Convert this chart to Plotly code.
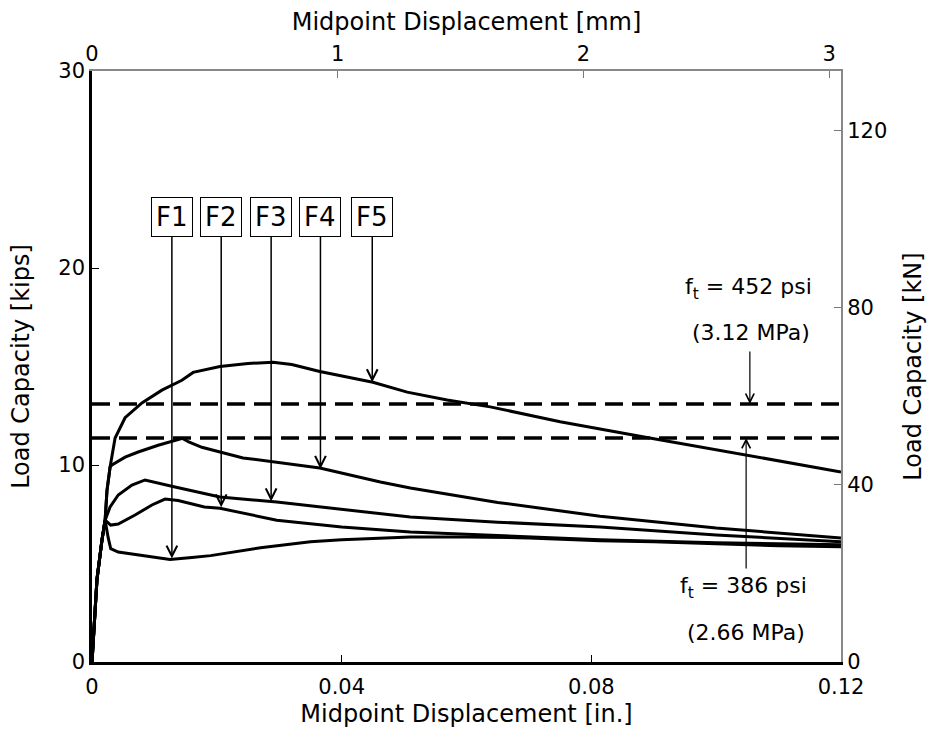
import plotly.graph_objects as go

KIPS_TO_KN = 4.44822
IN_TO_MM = 25.4

# ---- data (displacement in inches, load in kips) ----
f1_x = [0, 0.0008, 0.0016, 0.0021, 0.0026, 0.0030, 0.0042, 0.0080, 0.0125, 0.0160, 0.0190, 0.0270,
        0.0350, 0.0400, 0.0510, 0.0600, 0.0700, 0.0814, 0.0900, 0.1000, 0.1100, 0.1200]
f1_y = [0, 4.2, 6.2, 7.2, 6.3, 5.75, 5.58, 5.40, 5.20, 5.30, 5.40, 5.80,
        6.10, 6.20, 6.35, 6.35, 6.30, 6.15, 6.10, 6.00, 5.90, 5.85]

f2_x = [0, 0.0008, 0.0016, 0.0021, 0.0030, 0.0042, 0.0069, 0.0096, 0.0117, 0.0138, 0.0180, 0.0205,
        0.0296, 0.0400, 0.0510, 0.0650, 0.0814, 0.1000, 0.1200]
f2_y = [0, 4.2, 6.2, 7.2, 6.95, 7.00, 7.46, 7.97, 8.27, 8.20, 7.87, 7.80,
        7.20, 6.85, 6.60, 6.40, 6.20, 6.05, 5.95]

f3_x = [0, 0.0008, 0.0016, 0.0021, 0.0029, 0.0042, 0.0064, 0.0085, 0.0133, 0.0176, 0.0205,
        0.0296, 0.0400, 0.0510, 0.0650, 0.0814, 0.1000, 0.1200]
f3_y = [0, 4.2, 6.2, 7.2, 7.87, 8.48, 8.98, 9.24, 8.88, 8.58, 8.38,
        8.12, 7.75, 7.36, 7.10, 6.85, 6.45, 6.10]

f4_x = [0, 0.0008, 0.0016, 0.0021, 0.0024, 0.0029, 0.0032, 0.0053, 0.0074, 0.0106, 0.0145, 0.0155,
        0.0176, 0.0242, 0.0365, 0.0462, 0.0510, 0.0650, 0.0814, 0.1000, 0.1200]
f4_y = [0, 4.2, 6.2, 7.2, 8.7, 9.9, 10.0, 10.4, 10.66, 11.0, 11.35, 11.17,
        10.9, 10.36, 9.85, 9.14, 8.83, 8.10, 7.40, 6.80, 6.30]

f5_x = [0, 0.0008, 0.0016, 0.0021, 0.0024, 0.0029, 0.0037, 0.0053, 0.0080, 0.0112, 0.0144, 0.0162,
        0.0205, 0.0250, 0.0290, 0.0320, 0.0365, 0.0450, 0.0505, 0.0569, 0.0638, 0.0750, 0.0889,
        0.1050, 0.1200]
f5_y = [0, 4.2, 6.2, 7.2, 8.7, 9.9, 11.37, 12.4, 13.15, 13.8, 14.3, 14.7,
        15.0, 15.15, 15.22, 15.1, 14.75, 14.2, 13.7, 13.3, 12.95, 12.2, 11.4,
        10.5, 9.65]

series_x = [f1_x, f2_x, f3_x, f4_x, f5_x]
series_y = [f1_y, f2_y, f3_y, f4_y, f5_y]

# strength levels (kips) and labels
ft_levels = [13.10, 11.37]
ft_labels = ["f<sub>t</sub> = 452 psi", "f<sub>t</sub> = 386 psi"]
ft_mpa = ["(3.12 MPa)", "(2.66 MPa)"]

# curve labels and where their arrows point
curve_names = ["F1", "F2", "F3", "F4", "F5"]
arrow_x = [0.0128, 0.0207, 0.0287, 0.0366, 0.0449]
arrow_y = [5.25, 7.85, 8.15, 9.80, 14.20]
label_y = 22.6

x_ticks = [0, 0.04, 0.08, 0.12]
x_ticktext = ["0", "0.04", "0.08", "0.12"]
y_ticks = [0, 10, 20, 30]
mm_ticks = [0, 1, 2, 3]
kn_ticks = [0, 40, 80, 120]

FONT = "DejaVu Sans"

fig = go.Figure()

for xs, ys in zip(series_x, series_y):
    fig.add_trace(go.Scatter(x=xs, y=ys, mode="lines",
                             line=dict(color="black", width=3),
                             showlegend=False, hoverinfo="skip"))

for lvl in ft_levels:
    fig.add_trace(go.Scatter(x=[x_ticks[0], x_ticks[-1]], y=[lvl, lvl], mode="lines",
                             line=dict(color="black", width=3.5, dash="18px,9px"),
                             showlegend=False, hoverinfo="skip"))

# invisible trace on secondary axes (metric units)
fig.add_trace(go.Scatter(x=[v * IN_TO_MM for v in f5_x], y=[v * KIPS_TO_KN for v in f5_y],
                         xaxis="x2", yaxis="y2", mode="lines",
                         line=dict(color="rgba(0,0,0,0)"), showlegend=False, hoverinfo="skip"))

# F labels with arrows
for name, xa, ya in zip(curve_names, arrow_x, arrow_y):
    fig.add_annotation(x=xa, y=ya, ax=xa, ay=label_y, xref="x", yref="y", axref="x", ayref="y",
                       text=name, showarrow=True, arrowhead=5, arrowsize=1.4, arrowwidth=1.5,
                       arrowcolor="black", font=dict(family=FONT, size=26, color="black"),
                       bordercolor="black", borderwidth=1, borderpad=4, bgcolor="white")

# ft annotations
ft_x = 0.1054
fig.add_annotation(x=ft_x, y=ft_levels[0], ax=ft_x, ay=15.84, xref="x", yref="y",
                   axref="x", ayref="y", text="", showarrow=True, arrowhead=5,
                   arrowsize=1.4, arrowwidth=1.2, arrowcolor="black")
fig.add_annotation(x=ft_x - 0.0006, y=ft_levels[1], ax=ft_x - 0.0006, ay=4.67, xref="x", yref="y",
                   axref="x", ayref="y", text="", showarrow=True, arrowhead=5,
                   arrowsize=1.4, arrowwidth=1.2, arrowcolor="black")
fig.add_annotation(x=0.1051, y=18.97, xref="x", yref="y", text=ft_labels[0], showarrow=False,
                   font=dict(family=FONT, size=22, color="black"))
fig.add_annotation(x=0.1056, y=16.75, xref="x", yref="y", text=ft_mpa[0], showarrow=False,
                   font=dict(family=FONT, size=22, color="black"))
fig.add_annotation(x=0.1043, y=3.76, xref="x", yref="y", text=ft_labels[1], showarrow=False,
                   font=dict(family=FONT, size=22, color="black"))
fig.add_annotation(x=0.1048, y=1.52, xref="x", yref="y", text=ft_mpa[1], showarrow=False,
                   font=dict(family=FONT, size=22, color="black"))

tickfont = dict(family=FONT, size=21, color="black")
titlefont = dict(family=FONT, size=24, color="black")

fig.update_layout(
    width=930, height=730,
    margin=dict(l=92, r=89, t=71, b=68, autoexpand=False),
    paper_bgcolor="white", plot_bgcolor="white",
    xaxis=dict(range=[0, 0.12], tickvals=x_ticks, ticktext=x_ticktext, ticks="inside", ticklen=7,
               tickcolor="black", showline=True, linecolor="black", linewidth=2.5,
               showgrid=False, zeroline=False, tickfont=tickfont, ticklabelstandoff=4,
               automargin=False,
               title=dict(text="Midpoint Displacement [in.]", font=titlefont, standoff=8)),
    xaxis2=dict(range=[0, 0.12 * IN_TO_MM], overlaying="x", side="top", tickvals=mm_ticks,
                ticks="inside", ticklen=7, tickcolor="#777", showline=True, linecolor="#888",
                linewidth=2, showgrid=False, zeroline=False, tickfont=tickfont,
                automargin=False,
                title=dict(text="Midpoint Displacement [mm]", font=titlefont, standoff=4)),
    yaxis=dict(range=[0, 30], tickvals=y_ticks, ticks="inside", ticklen=7, tickcolor="black",
               showline=True, linecolor="black", linewidth=2.5, showgrid=False, zeroline=False,
               tickfont=tickfont, automargin=False,
               title=dict(text="Load Capacity [kips]", font=titlefont, standoff=22)),
    yaxis2=dict(range=[0, 30 * KIPS_TO_KN], overlaying="y", side="right", tickvals=kn_ticks,
                ticks="inside", ticklen=7, tickcolor="#777", showline=True, linecolor="#888",
                linewidth=2, showgrid=False, zeroline=False, tickfont=tickfont,
                automargin=False,
                title=dict(text="Load Capacity [kN]", font=titlefont, standoff=18)),
)

fig.write_html("out.html")
